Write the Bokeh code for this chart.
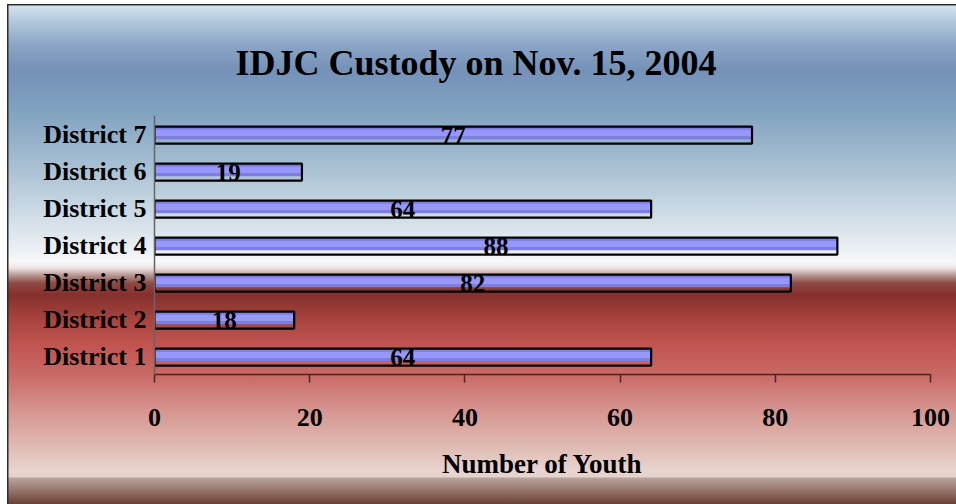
from bokeh.plotting import figure
from bokeh.models import ColumnDataSource, FixedTicker, Range1d
from bokeh.transform import dodge
from bokeh.core.properties import value
from bokeh.embed import file_html
from bokeh.resources import INLINE

districts = ["District 1", "District 2", "District 3", "District 4",
             "District 5", "District 6", "District 7"]
youth = [64, 18, 82, 88, 64, 19, 77]
x_ticks = [0, 20, 40, 60, 80, 100]
title_text = "IDJC Custody on Nov. 15, 2004"
x_title = "Number of Youth"

src = ColumnDataSource(dict(
    district=districts,
    youth=youth,
    mid=[v / 2 for v in youth],
    label=[str(v) for v in youth],
))

FONT = "Liberation Serif"

grad = ("linear-gradient(to bottom, "
        "#ffffff 0px, #ffffff 5px, #d3e2ee 6px, #b5cade 20px, #8aa5c5 45px, "
        "#7591b8 70px, #80a2c0 110px, #a3bcd0 160px, #c2d3e0 200px, "
        "#e3eaf0 240px, #f7f8f9 262px, #eee4e2 268px, #b89a95 275px, "
        "#8e4a44 283px, #85302c 295px, #a8443f 320px, #c15451 345px, "
        "#c96a66 375px, #d6948f 410px, #ddb4ac 440px, #e8d4ce 470px, "
        "#e6d3cd 477px, #b8a49c 478px, #98766e 490px, #6b4035 504px)")
line_c = "linear-gradient(#2a2a2a, #2a2a2a)"

p = figure(width=956, height=504, y_range=districts, x_range=Range1d(0, 100),
           output_backend="svg", toolbar_location=None, title=title_text,
           min_border_left=154, min_border_right=26, min_border_top=115,
           min_border_bottom=130)
p.styles = {
    "background": (f"{line_c} 7px 4px / 949px 1.5px no-repeat, "
                   f"{line_c} 7px 4px / 1.5px 500px no-repeat, "
                   f"{grad} 8px 0px / 948px 504px no-repeat, #ffffff"),
}
p.background_fill_alpha = 0
p.border_fill_alpha = 0
p.outline_line_color = None
p.grid.visible = False

p.title.text_font = FONT
p.title.text_font_size = "36px"
p.title.text_font_style = "bold"
p.title.align = "left"
p.title.offset = 81
p.title.text_color = "black"
p.title.standoff = 66

# bar fill (shifted up) and outline (shifted down)
p.hbar(y=dodge("district", 0.03, range=p.y_range), right="youth", height=0.35,
       source=src, fill_color="#7e7ee0", line_color=None)
p.hbar(y=dodge("district", 0.03, range=p.y_range), right="youth", height=0.17,
       source=src, fill_color="#9898fb", line_color=None)
p.hbar(y=dodge("district", -0.03, range=p.y_range), right="youth", height=0.46,
       source=src, fill_color=None, line_color="black", line_width=2.2)

p.text(x="mid", y=dodge("district", -0.05, range=p.y_range), text="label",
       source=src, text_align="center", text_baseline="middle",
       text_font=value(FONT), text_font_size="25px", text_font_style="bold",
       text_color="black")

xa = p.xaxis[0]
xa.ticker = FixedTicker(ticks=x_ticks)
xa.axis_label = x_title
xa.axis_label_text_font = FONT
xa.axis_label_text_font_size = "27px"
xa.axis_label_text_font_style = "bold"
xa.axis_label_text_color = "black"
xa.axis_label_standoff = 20
xa.major_label_text_font = FONT
xa.major_label_text_font_size = "26px"
xa.major_label_text_font_style = "bold"
xa.major_label_text_color = "black"
xa.major_label_standoff = 26
xa.major_tick_in = 0
xa.major_tick_out = 8
xa.minor_tick_line_color = None
xa.axis_line_color = "#4a2422"
xa.major_tick_line_color = "#4a2422"
xa.axis_line_width = 1.5
xa.major_tick_line_width = 1.5

ya = p.yaxis[0]
ya.major_tick_line_color = None
ya.minor_tick_line_color = None
ya.major_tick_in = 0
ya.major_tick_out = 0
ya.major_label_standoff = 8
ya.major_label_text_font = FONT
ya.major_label_text_font_size = "26px"
ya.major_label_text_font_style = "bold"
ya.major_label_text_color = "black"
ya.axis_line_color = "#666666"
ya.axis_line_width = 1.5

open("out.html", "w").write(file_html(p, INLINE))
